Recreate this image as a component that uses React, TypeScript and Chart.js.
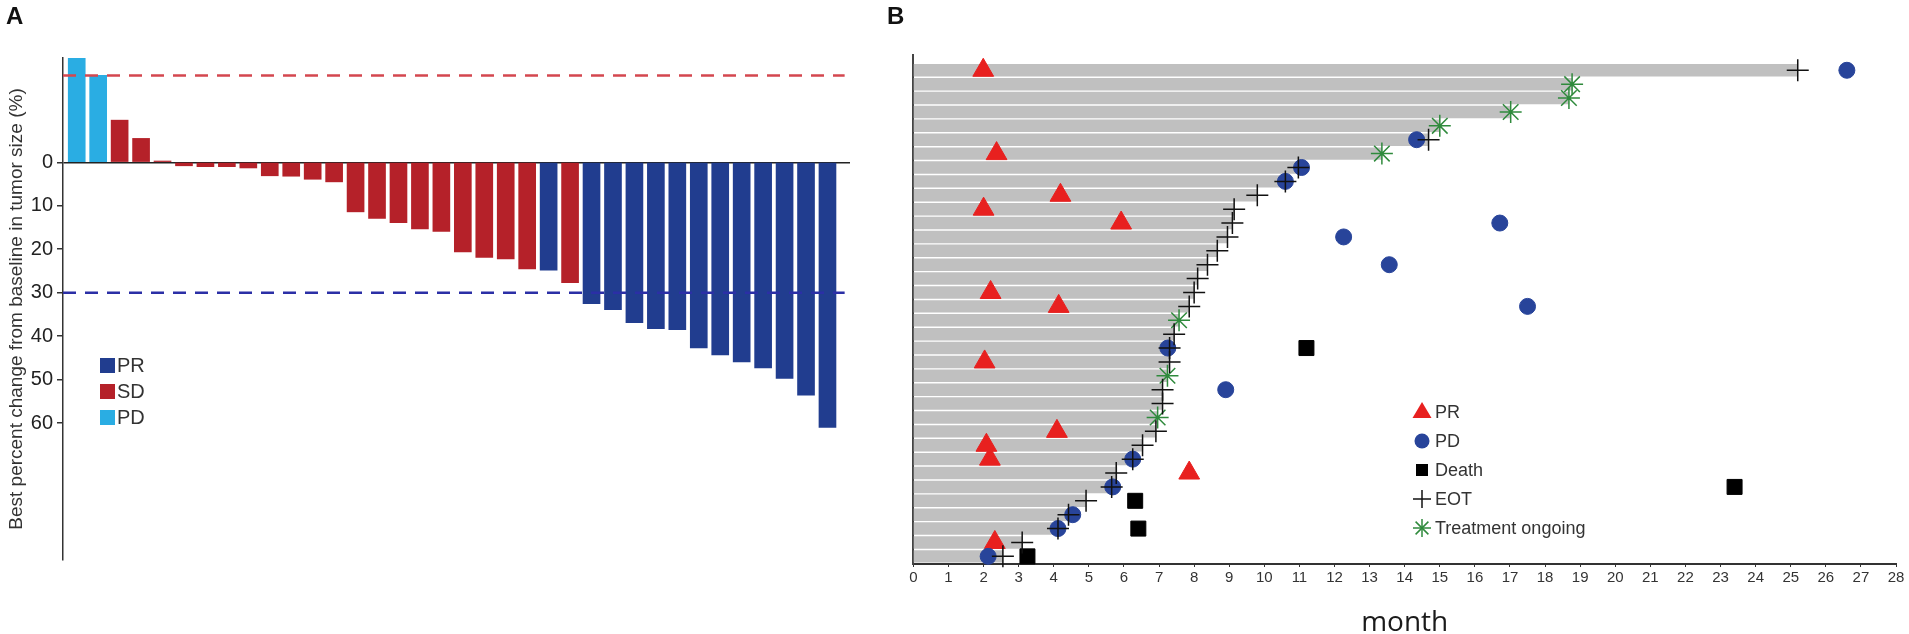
import { useEffect, useRef } from 'react';
import { Chart, registerables } from 'chart.js';

Chart.register(...registerables);

// Panel A: best percent change per patient (negative = shrinkage)
const changeValues = [
  24, 20, 9.7, 5.5, 0.3, -0.8, -1, -1, -1.3, -3.1, -3.2, -3.9, -4.5, -11.4, -12.9, -13.9, -15.3, -15.9,
  -20.6, -21.9, -22.2, -24.5, -24.8, -27.7, -32.5, -33.9, -36.9, -38.3, -38.5, -42.7, -44.3, -45.9,
  -47.3, -49.7, -53.6, -61,
];
const responses = [
  'PD', 'PD', 'SD', 'SD', 'SD', 'SD', 'SD', 'SD', 'SD', 'SD', 'SD', 'SD', 'SD', 'SD', 'SD', 'SD', 'SD', 'SD',
  'SD', 'SD', 'SD', 'SD', 'PR', 'SD', 'PR', 'PR', 'PR', 'PR', 'PR', 'PR', 'PR', 'PR', 'PR', 'PR', 'PR', 'PR',
];
const responseColors: Record<string, string> = { PR: '#213d8f', SD: '#b52129', PD: '#2aade3' };
const responseLabels = ['PR', 'SD', 'PD'];
const changeTicks = [0, -10, -20, -30, -40, -50, -60];
const pdThreshold = 20;
const prThreshold = -30;

// Panel B: swimmer plot, rows from bottom (0) to top (35)
const durations = [
  2.55, 3.1, 4.12, 4.5, 4.92, 5.68, 5.8, 6.25, 6.53, 6.91, 6.96, 7.1, 7.1, 7.24, 7.3, 7.3, 7.43, 7.57,
  7.86, 8.0, 8.1, 8.38, 8.66, 8.95, 9.09, 9.14, 9.8, 10.6, 11.0, 13.35, 14.68, 15.0, 17.02, 18.68, 18.77, 25.2,
];
const prRows = [1, 6, 7, 8, 9, 14, 18, 19, 24, 25, 26, 29, 35];
const prMonths = [2.32, 7.86, 2.18, 2.08, 4.09, 2.03, 4.14, 2.2, 5.92, 2.0, 4.19, 2.37, 1.99];
const pdRows = [0, 2, 3, 5, 7, 12, 15, 18, 21, 23, 24, 27, 28, 30, 35];
const pdMonths = [2.13, 4.12, 4.54, 5.68, 6.25, 8.9, 7.25, 17.5, 13.56, 12.26, 16.71, 10.6, 11.06, 14.34, 26.6];
const deathRows = [0, 2, 4, 5, 15];
const deathMonths = [3.25, 6.41, 6.32, 23.4, 11.2];
const eotRows = [0, 1, 2, 3, 4, 5, 6, 7, 8, 9, 11, 12, 14, 15, 16, 18, 19, 20, 21, 22, 23, 24, 25, 26, 27, 28, 30, 35];
const eotMonths = [
  2.55, 3.1, 4.12, 4.42, 4.92, 5.65, 5.78, 6.25, 6.53, 6.91, 7.1, 7.1, 7.3, 7.3, 7.43, 7.86, 8.0, 8.1, 8.38,
  8.66, 8.95, 9.09, 9.14, 9.8, 10.6, 10.97, 14.68, 25.2,
];
const ongoingRows = [10, 13, 17, 29, 31, 32, 33, 34];
const ongoingMonths = [6.96, 7.24, 7.57, 13.35, 15.0, 17.02, 18.68, 18.77];
const maxMonth = 28;

const points = (rows: number[], months: number[]) => rows.map((r, i) => ({ x: months[i], y: r }));

function Waterfall() {
  const ref = useRef<HTMLCanvasElement>(null);

  useEffect(() => {
    const xMin = -0.64;
    const xEnd = changeValues.length - 0.2;
    const chart = new Chart(ref.current!, {
      type: 'bar',
      data: {
        datasets: [
          {
            type: 'line',
            data: [{ x: xMin, y: pdThreshold }, { x: xEnd, y: pdThreshold }],
            borderColor: '#d4474f',
            borderWidth: 2.5,
            borderDash: [13, 9],
            pointRadius: 0,
            order: 0,
          },
          {
            type: 'line',
            data: [{ x: xMin, y: prThreshold }, { x: xEnd, y: prThreshold }],
            borderColor: '#2b2fa6',
            borderWidth: 2.5,
            borderDash: [13, 9],
            pointRadius: 0,
            order: 0,
          },
          {
            type: 'bar',
            data: changeValues.map((v, i) => ({ x: i, y: v })),
            backgroundColor: responses.map((r) => responseColors[r]),
            barThickness: 17,
            order: 1,
          },
        ],
      } as any,
      options: {
        animation: false,
        responsive: false,
        events: [],
        layout: { padding: { left: 0, top: 58, right: 30, bottom: 74 } },
        plugins: { legend: { display: false }, tooltip: { enabled: false } },
        scales: {
          x: { type: 'linear', min: xMin, max: 36.05, display: false, offset: false },
          y: {
            type: 'linear',
            min: -91.5,
            max: 24,
            offset: false,
            afterBuildTicks: (s: any) => {
              s.ticks = changeTicks.map((v) => ({ value: v }));
            },
            afterFit: (s: any) => {
              s.width = 63;
            },
            ticks: {
              callback: (v: any) => String(Math.abs(Number(v))),
              font: { family: 'Liberation Sans', size: 20 },
              color: '#222',
              padding: 4,
            },
            grid: {
              color: (c: any) => (c.tick && c.tick.value === 0 ? '#222' : 'rgba(0,0,0,0)'),
              tickColor: '#333',
              tickLength: 6,
              lineWidth: 1.5,
            },
            border: { color: '#333', width: 1.5 },
            title: {
              display: true,
              text: 'Best percent change from baseline in tumor size (%)',
              font: { family: 'Liberation Sans', size: 19 },
              color: '#333',
              padding: { top: 5, bottom: 0 },
            },
          },
        },
      } as any,
    });
    return () => chart.destroy();
  }, []);

  return <canvas ref={ref} width={880} height={634} style={{ position: 'absolute', left: 0, top: 0 }} />;
}

function Swimmer() {
  const ref = useRef<HTMLCanvasElement>(null);

  useEffect(() => {
    const chart = new Chart(ref.current!, {
      type: 'bar',
      data: {
        datasets: [
          {
            type: 'scatter',
            data: points(eotRows, eotMonths),
            pointStyle: 'cross',
            pointRadius: 11,
            borderColor: '#111',
            borderWidth: 1.5,
            clip: false,
            order: 0,
          },
          {
            type: 'scatter',
            data: points(ongoingRows, ongoingMonths),
            pointStyle: 'star',
            pointRadius: 11,
            borderColor: '#2f8a3c',
            borderWidth: 1.5,
            clip: false,
            order: 1,
          },
          {
            type: 'scatter',
            data: points(deathRows, deathMonths),
            pointStyle: 'rect',
            pointRadius: 10.6,
            backgroundColor: '#000',
            borderColor: '#000',
            borderWidth: 1,
            clip: false,
            order: 2,
          },
          {
            type: 'scatter',
            data: points(pdRows, pdMonths),
            pointStyle: 'circle',
            pointRadius: 8,
            backgroundColor: '#28449a',
            borderColor: '#28449a',
            borderWidth: 1,
            clip: false,
            order: 3,
          },
          {
            type: 'scatter',
            data: points(prRows, prMonths),
            pointStyle: 'triangle',
            pointRadius: 12,
            backgroundColor: '#e8201f',
            borderColor: '#e8201f',
            borderWidth: 1,
            clip: false,
            order: 4,
          },
          {
            type: 'bar',
            indexAxis: 'y',
            data: durations.map((d, i) => ({ x: d, y: i })),
            backgroundColor: '#c0c0c0',
            barThickness: 11.8,
            order: 10,
          },
        ],
      } as any,
      options: {
        animation: false,
        responsive: false,
        events: [],
        layout: { padding: { left: 0, top: 55, right: 10.7, bottom: 0 } },
        plugins: { legend: { display: false }, tooltip: { enabled: false } },
        scales: {
          x: {
            type: 'linear',
            min: 0,
            max: maxMonth,
            offset: false,
            grace: 0,
            afterFit: (s: any) => {
              s.height = 70;
            },
            ticks: {
              stepSize: 1,
              autoSkip: false,
              maxRotation: 0,
              font: { family: 'Liberation Sans', size: 15 },
              color: '#333',
              padding: 2,
            },
            grid: { drawOnChartArea: false, offset: false, tickLength: 3, color: '#333' },
            border: { color: '#333', width: 2 },
            title: {
              display: true,
              text: 'month',
              font: { family: 'Open Sans', size: 28, lineHeight: 0.8 },
              color: '#1a1a1a',
              padding: 0,
            },
          },
          y: {
            type: 'linear',
            min: -0.55,
            max: 36.1,
            offset: false,
            grace: 0,
            afterFit: (s: any) => {
              s.width = 33.4;
            },
            ticks: { display: false },
            grid: { display: false, offset: false },
            border: { color: '#444', width: 2 },
          },
        },
      } as any,
    });
    return () => chart.destroy();
  }, []);

  return <canvas ref={ref} width={1029} height={634} style={{ position: 'absolute', left: 880, top: 0 }} />;
}

function Glyph({ kind }: { kind: string }) {
  return (
    <svg width={22} height={22} viewBox="0 0 22 22" style={{ position: 'absolute', left: 0, top: 0 }}>
      {kind === 'PR' && <polygon points="11,1 20.5,17 1.5,17" fill="#e8201f" />}
      {kind === 'PD' && <circle cx={11} cy={11} r={7.5} fill="#28449a" />}
      {kind === 'Death' && <rect x={5} y={5} width={12} height={12} fill="#000" />}
      {kind === 'EOT' && (
        <g stroke="#111" strokeWidth={1.5}>
          <line x1={2} y1={11} x2={20} y2={11} />
          <line x1={11} y1={2} x2={11} y2={20} />
        </g>
      )}
      {kind === 'Treatment ongoing' && (
        <g stroke="#2f8a3c" strokeWidth={1.5}>
          <line x1={2} y1={11} x2={20} y2={11} />
          <line x1={11} y1={2} x2={11} y2={20} />
          <line x1={4.6} y1={4.6} x2={17.4} y2={17.4} />
          <line x1={4.6} y1={17.4} x2={17.4} y2={4.6} />
        </g>
      )}
    </svg>
  );
}

const swimmerLegend = ['PR', 'PD', 'Death', 'EOT', 'Treatment ongoing'];

export default function App() {
  return (
    <div
      style={{
        position: 'absolute',
        left: 0,
        top: 0,
        width: 1909,
        height: 634,
        background: '#fff',
        fontFamily: "'Liberation Sans', Arial, sans-serif",
        overflow: 'hidden',
      }}
    >
      <Waterfall />
      <Swimmer />
      <div style={{ position: 'absolute', left: 6, top: 4, fontSize: 24, lineHeight: '24px', fontWeight: 'bold', color: '#111' }}>A</div>
      <div style={{ position: 'absolute', left: 887, top: 4, fontSize: 24, lineHeight: '24px', fontWeight: 'bold', color: '#111' }}>B</div>
      {responseLabels.map((r, i) => (
        <div key={r} style={{ position: 'absolute', left: 100, top: 358 + i * 26, height: 15, display: 'flex', alignItems: 'center' }}>
          <div style={{ width: 15, height: 15, background: responseColors[r] }} />
          <div style={{ marginLeft: 2, fontSize: 20, lineHeight: '15px', color: '#333' }}>{r}</div>
        </div>
      ))}
      {swimmerLegend.map((k, i) => {
        const yc = 412 + i * 29;
        return (
          <div key={k}>
            <div style={{ position: 'absolute', left: 1411, top: yc - 11, width: 22, height: 22 }}>
              <Glyph kind={k} />
            </div>
            <div style={{ position: 'absolute', left: 1435, top: yc - 9, fontSize: 18, lineHeight: '18px', color: '#333', whiteSpace: 'nowrap' }}>
              {k}
            </div>
          </div>
        );
      })}
    </div>
  );
}
